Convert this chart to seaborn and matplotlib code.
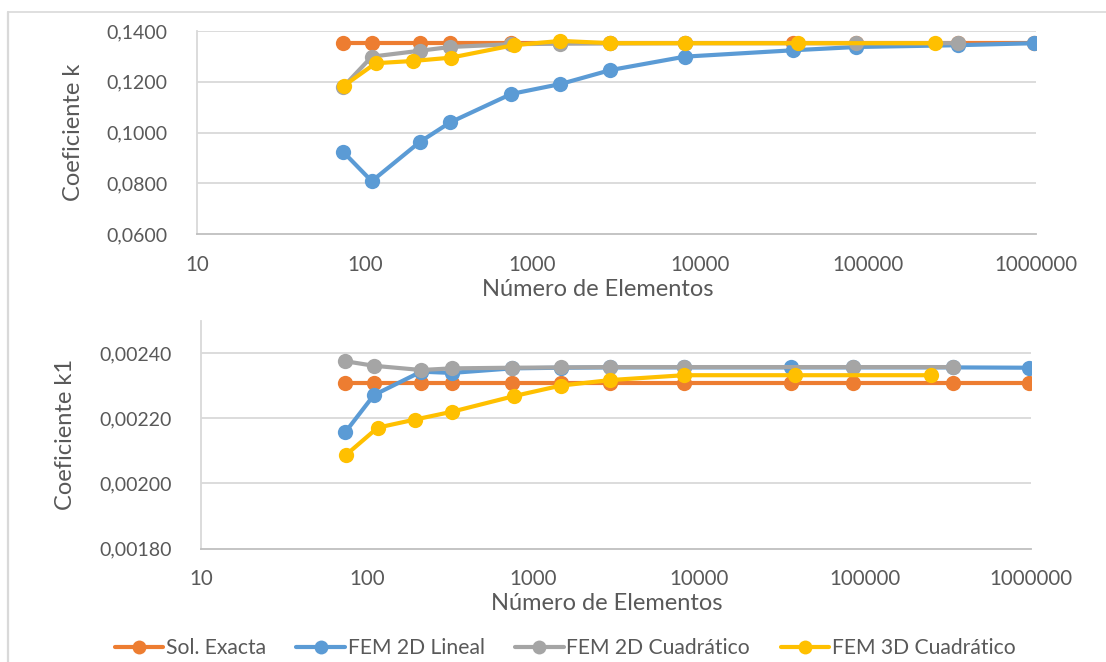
import numpy as np
import pandas as pd
import seaborn as sns
import matplotlib
matplotlib.use("Agg")
import matplotlib.pyplot as plt
from matplotlib.lines import Line2D
from matplotlib.ticker import FuncFormatter, FixedLocator, NullLocator

sns.set_theme(style="white")
plt.rcParams["font.family"] = ["Lato", "DejaVu Sans"]

# Mesh sizes (number of elements) per series
n_exacta = [74, 110, 212, 323, 747, 1466, 2912, 8090, 35650, 85100, 341000, 977000]
n_2d_lineal = [74, 110, 212, 323, 747, 1466, 2912, 8090, 35650, 85100, 341000, 977000]
n_2d_cuad = [74, 110, 212, 323, 747, 1466, 2912, 8090, 85100, 341000]
n_3d_cuad = [75, 116, 195, 326, 770, 1466, 2900, 8100, 38000, 250000]

# Coefficient k
k_exacta = [0.1352] * 12
k_2d_lineal = [0.0925, 0.0808, 0.0962, 0.1040, 0.1152, 0.1191, 0.1246,
               0.1299, 0.1324, 0.1337, 0.1344, 0.1352]
k_2d_cuad = [0.1178, 0.1299, 0.1322, 0.1337, 0.1348, 0.1350, 0.1351,
             0.1352, 0.1352, 0.1352]
k_3d_cuad = [0.1184, 0.1273, 0.1282, 0.1295, 0.1344, 0.1361, 0.1352,
             0.1352, 0.1352, 0.1352]

# Coefficient k1
k1_exacta = [0.002307] * 12
k1_2d_lineal = [0.002157, 0.002271, 0.002343, 0.002339, 0.002353, 0.002355,
                0.002356, 0.002356, 0.002356, 0.002356, 0.002356, 0.002355]
k1_2d_cuad = [0.002375, 0.002361, 0.002348, 0.002353, 0.002355, 0.002356,
              0.002357, 0.002357, 0.002357, 0.002357]
k1_3d_cuad = [0.002088, 0.002171, 0.002196, 0.002220, 0.002268, 0.002300,
              0.002317, 0.002332, 0.002332, 0.002332]

series_names = ["Sol. Exacta", "FEM 2D Lineal", "FEM 2D Cuadrático", "FEM 3D Cuadrático"]
colors = ["#ED7D31", "#5B9BD5", "#A5A5A5", "#FFC000"]
x_ticks = [10, 100, 1000, 10000, 100000, 1000000]
k_ticks = [0.06, 0.08, 0.10, 0.12, 0.14]
k1_ticks = [0.0018, 0.0020, 0.0022, 0.0024]

n_lists = [n_exacta, n_2d_lineal, n_2d_cuad, n_3d_cuad]


def long_frame(values):
    rows = []
    for name, ns, vs in zip(series_names, n_lists, values):
        for n, v in zip(ns, vs):
            rows.append({"N": n, "valor": v, "serie": name})
    return pd.DataFrame(rows)


df_k = long_frame([k_exacta, k_2d_lineal, k_2d_cuad, k_3d_cuad])
df_k1 = long_frame([k1_exacta, k1_2d_lineal, k1_2d_cuad, k1_3d_cuad])

W, H = 1106, 662
fig = plt.figure(figsize=(W / 100, H / 100), dpi=100)
fig.patch.set_facecolor("white")

ax1 = fig.add_axes([197 / W, 1 - 234 / H, (1036 - 197) / W, (234 - 31) / H])
ax2 = fig.add_axes([201 / W, 1 - 548.5 / H, (1031 - 201) / W, (548.5 - 320.5) / H])

tick_color = "#595959"
grid_color = "#d9d9d9"
palette = dict(zip(series_names, colors))


def style_axis(ax, df, yticks, ylim, decimals, ylabel):
    sns.lineplot(data=df, x="N", y="valor", hue="serie", hue_order=series_names,
                 palette=palette, estimator=None, sort=True, marker="o",
                 markersize=11, markeredgewidth=0, linewidth=3, legend=False,
                 ax=ax)
    ax.set_xscale("log")
    ax.set_xlim(10, 1000000)
    ax.set_ylim(*ylim)
    ax.xaxis.set_major_locator(FixedLocator(x_ticks))
    ax.xaxis.set_minor_locator(NullLocator())
    ax.xaxis.set_major_formatter(FuncFormatter(lambda v, p: f"{v:.0f}"))
    ax.yaxis.set_major_locator(FixedLocator(yticks))
    ax.yaxis.set_major_formatter(
        FuncFormatter(lambda v, p: f"{v:.{decimals}f}".replace(".", ",")))
    for y in yticks[1:]:
        ax.axhline(y, color=grid_color, linewidth=1.3, zorder=0)
    for side in ["top", "right"]:
        ax.spines[side].set_visible(False)
    ax.spines["left"].set_color(grid_color)
    ax.spines["left"].set_linewidth(1.3)
    ax.spines["bottom"].set_color("#bfbfbf")
    ax.spines["bottom"].set_linewidth(1.3)
    ax.tick_params(axis="both", length=0, colors=tick_color)
    ax.tick_params(axis="y", labelsize=14, pad=21)
    ax.tick_params(axis="x", labelsize=14.8, pad=15)
    ax.set_xlabel("Número de Elementos", fontsize=17, color=tick_color)
    ax.set_ylabel(ylabel, fontsize=17, color=tick_color)
    ax.set_facecolor("white")


style_axis(ax1, df_k, k_ticks, (0.06, 0.14), 4, "Coeficiente k")
style_axis(ax2, df_k1, k1_ticks, (0.0018, 0.0025), 5, "Coeficiente k1")

# axis title placement
ax1.xaxis.label.set_va("center")
ax1.xaxis.set_label_coords((598 - 197) / 839, -(289 - 234) / 203)
ax1.yaxis.set_label_coords(-(197 - 73) / 839, 0.5)
ax2.xaxis.label.set_va("center")
ax2.xaxis.set_label_coords((607 - 201) / 830, -(604 - 548.5) / 228)
ax2.yaxis.set_label_coords(-(201 - 65) / 830, 0.5)
ax1.yaxis.label.set_va("center")
ax2.yaxis.label.set_va("center")

handles = [Line2D([0], [0], color=c, linewidth=3, marker="o", markersize=10,
                  markeredgewidth=0) for c in colors]
fig.legend(handles, series_names, loc="center", bbox_to_anchor=(565 / W, 1 - 648 / H),
           ncol=4, frameon=False, fontsize=15.2, handlelength=2.3,
           columnspacing=1.45, handletextpad=0.12, labelcolor=tick_color)

# chart frame
fig.add_artist(Line2D([8 / W, 1], [1 - 12 / H, 1 - 12 / H], color=grid_color,
                      linewidth=1.2, transform=fig.transFigure))
fig.add_artist(Line2D([8 / W, 8 / W], [1 - 12 / H, 0], color=grid_color,
                      linewidth=1.6, transform=fig.transFigure))

fig.savefig("out.png", dpi=100)
